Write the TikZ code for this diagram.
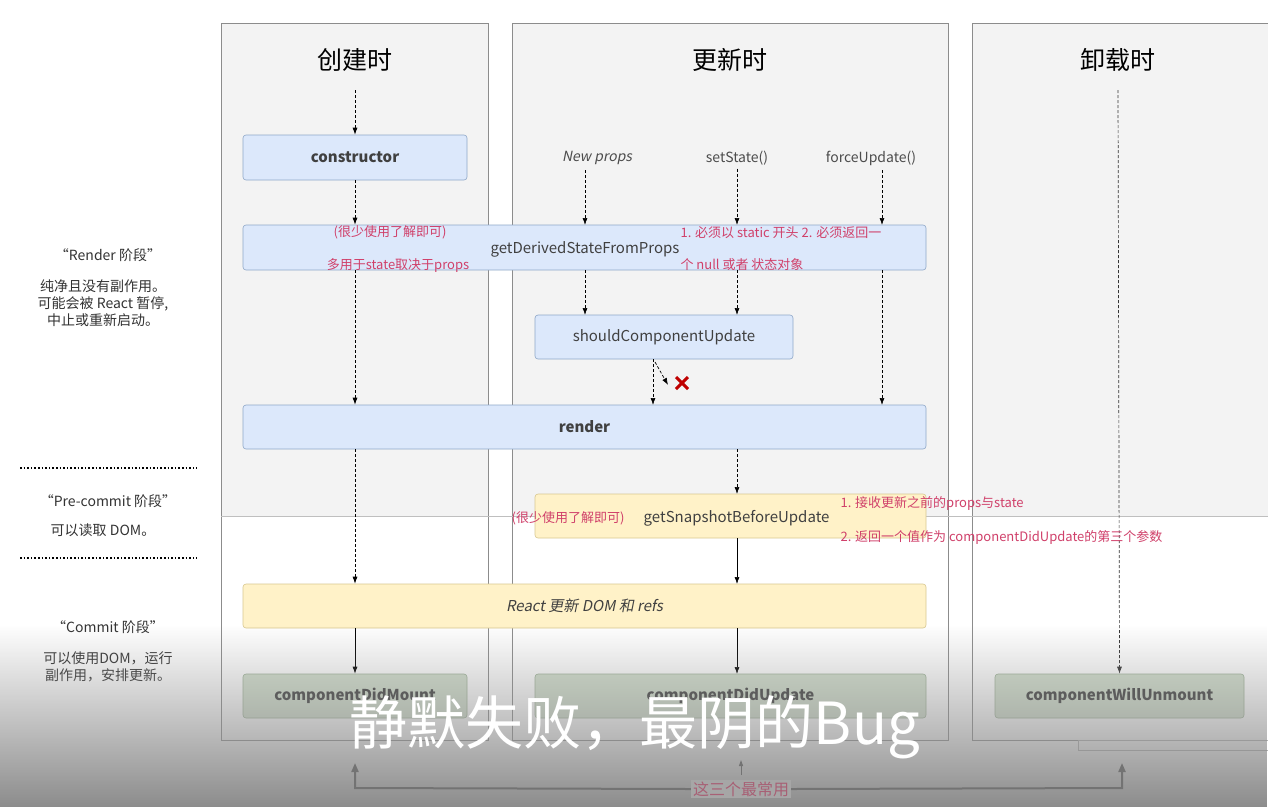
\documentclass[tikz,border=0pt]{standalone}
\usepackage{fontspec}
\setmainfont{Noto Sans CJK SC}
\newfontfamily\slnt[FakeSlant=0.2]{Noto Sans CJK SC}
\usetikzlibrary{arrows.meta,fadings}
\definecolor{bluef}{HTML}{DCE8FB}\definecolor{blued}{HTML}{8FA8C8}
\definecolor{yelf}{HTML}{FFF2C8}\definecolor{yeld}{HTML}{D8C890}
\definecolor{grnf}{HTML}{D3E0CE}\definecolor{grnd}{HTML}{A0B49A}
\definecolor{anno}{HTML}{D0406A}\definecolor{panel}{HTML}{F3F3F3}
\begin{document}
\begin{tikzpicture}[x=1pt,y=-1pt,
 box/.style={draw=#1d,fill=#1f,rounded corners=3pt,line width=0.6pt,font=\fontsize{15}{18}\selectfont,text=black!75},
 darr/.style={-{Latex[length=7pt,width=5pt]},densely dashed,line width=0.7pt},
 sarr/.style={-{Latex[length=7pt,width=5pt]},line width=0.7pt},
 red/.style={text=anno,font=\fontsize{13}{15}\selectfont},
 side/.style={font=\fontsize{14}{17}\selectfont,text=black!80,align=center},
 ttl/.style={font=\fontsize{25}{28}\selectfont}]
\useasboundingbox (0,0) rectangle (1268,807);
\fill[white] (0,0) rectangle (1268,807);
% panels
\foreach \a/\b in {221/488,512/948,972/1268}{
 \fill[panel] (\a,23) rectangle (\b,516);
 \draw[black!45,line width=0.6pt] (\a,23) rectangle (\b,740);}
\draw[black!25] (221,516) -- (1268,516);
\draw[black!30] (1078,740) rectangle (1268,750);
\node[ttl] (t1) at (355,60) {创建时};
\node[ttl] (t2) at (730,60) {更新时};
\node[ttl] (t3) at (1118,60) {卸载时};
% left labels
\node[side] (r1) at (108,255) {“Render 阶段”};
\node[side] (r2) at (103,303) {纯净且没有副作用。\\可能会被 React 暂停,\\中止或重新启动。};
\draw[line width=1.6pt,dotted] (20,468) -- (197,468);
\node[side] (p1) at (108,501) {“Pre-commit 阶段”};
\node[side] (p2) at (103,530) {可以读取 DOM。};
\draw[line width=1.6pt,dotted] (20,558) -- (197,558);
\node[side] (c1) at (108,627) {“Commit 阶段”};
\node[side] (c2) at (108,667) {可以使用DOM，运行\\副作用，安排更新。};
% nodes
\node[box=blue,minimum width=224,minimum height=45,font=\fontsize{15}{18}\bfseries] (con) at (355,157.5) {constructor};
\node[box=blue,minimum width=683,minimum height=45] (gd) at (584.5,247.5) {};
\node[font=\fontsize{15}{18}\selectfont,text=black!75] (gdt) at (585,249) {getDerivedStateFromProps};
\node[box=blue,minimum width=258,minimum height=44] (scu) at (664,337) {shouldComponentUpdate};
\node[box=blue,minimum width=683,minimum height=44,font=\fontsize{15}{18}\bfseries] (ren) at (584.5,427) {render};
\node[box=yel,minimum width=391,minimum height=44] (gs) at (730.5,516) {};
\node[font=\fontsize{15}{18}\selectfont,text=black!75,anchor=east] (gst) at (833,518) {getSnapshotBeforeUpdate};
\node[box=yel,minimum width=683,minimum height=44,font=\fontsize{15}{18}\slnt] (dom) at (584.5,606) {React 更新 DOM 和 refs};
\node[box=grn,minimum width=224,minimum height=44,font=\fontsize{15}{18}\bfseries] (cdm) at (355,696) {componentDidMount};
\node[box=grn,minimum width=391,minimum height=44,font=\fontsize{15}{18}\bfseries] (cdu) at (730.5,696) {componentDidUpdate};
\node[box=grn,minimum width=249,minimum height=44,font=\fontsize{15}{18}\bfseries] (cwu) at (1119.5,696) {componentWillUnmount};
% inputs
\node[font=\fontsize{14}{17}\slnt,text=black!70] (np) at (597,158) {New props};
\node[font=\fontsize{14}{17}\selectfont,text=black!70] (ss) at (737,158) {setState()};
\node[font=\fontsize{14}{17}\selectfont,text=black!70] (fu) at (871,158) {forceUpdate()};
\coordinate (s1) at (355,90); \coordinate (s3) at (1118,90);
% arrows
\draw[darr] (s1) -- (con);
\draw[darr] (con.south) -- (con.south|-gd.north);
\draw[darr] (gd.south-|con.south) -- (con.south|-ren.north);
\draw[darr] (ren.south-|con.south) -- (con.south|-dom.north);
\draw[sarr] (dom.south-|con.south) -- (cdm.north);
\draw[darr,black!80] (s3) -- (cwu.north);
\draw[darr] (585,170) -- (585,225);
\draw[darr] (ss.south) -- (737,225);
\draw[darr] (882,170) -- (882,225);
\draw[darr] (585,270) -- (585,315);
\draw[darr] (737,270) -- (737,315);
\draw[darr] (882,270) -- (882,405);
\draw[darr] (653,359) -- (653,405);
\draw[darr] (655,362) -- (668,385);
\coordinate (xc) at (682,383);
\draw[red!75!black,line width=3pt] ([shift={(-6,-6)}]xc) -- ([shift={(6,6)}]xc) ([shift={(-6,6)}]xc) -- ([shift={(6,-6)}]xc);
\draw[darr] (737,449) -- (737,494);
\draw[sarr] (737,538) -- (737,584);
\draw[sarr] (737,628) -- (737,674);
% annotations
\node[red] (a1) at (390,232) {(很少使用了解即可)};
\node[red] (a2) at (398,266) {多用于state取决于props};
\node[red,anchor=west] (a3) at (677,233) {1. 必须以 static 开头 2. 必须返回一};
\node[red,anchor=west] (a4) at (677,265) {个 null 或者 状态对象};
\node[red,anchor=east] (a5) at (628,518) {(很少使用了解即可)};
\node[red,anchor=west] (a6) at (837,503) {1. 接收更新之前的props与state};
\node[red,anchor=west] (a7) at (837,537) {2. 返回一个值作为 componentDidUpdate的第三个参数};
% bottom overlay
\fill[black!45,path fading=north] (0,625) rectangle (1268,807);
\coordinate (b1) at (355,788); \coordinate (b2) at (1122,788); \coordinate (b3) at (741,775);
\node[text=anno!50!gray,font=\fontsize{16}{18}\selectfont,fill=black!35,inner sep=2pt] (lbl) at (741,789) {这三个最常用};
\draw[black!55,line width=2pt,-{Triangle[length=9pt,width=7pt]}] (lbl.west) -- (b1) -- (355,763);
\draw[black!55,line width=2pt,-{Triangle[length=9pt,width=7pt]}] (lbl.east) -- (b2) -- (1122,763);
\draw[black!55,line width=1pt,-{Triangle[length=6pt,width=4pt]}] (b3) -- (741,760);
\node[text=white,font=\fontsize{58}{60}\selectfont] (sub) at (635,727) {静默失败，最阴的Bug};
\end{tikzpicture}
\end{document}
